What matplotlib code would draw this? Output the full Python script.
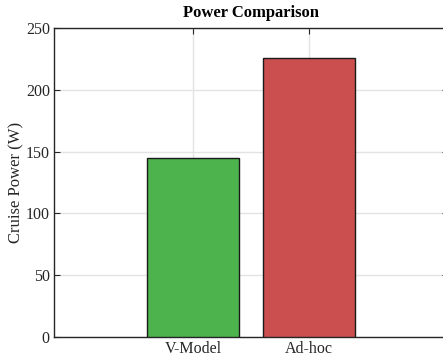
import matplotlib
matplotlib.use("Agg")
import matplotlib.pyplot as plt

# bar data
methods = ["V-Model", "Ad-hoc"]
cruise_power = [145, 226]
bar_colors = ["#4db34d", "#cc4f4f"]
y_ticks = [0, 50, 100, 150, 200, 250]

plt.rcParams["font.family"] = ["Liberation Serif", "DejaVu Serif"]

fig = plt.figure(figsize=(4.43, 3.59), dpi=100)
ax = fig.add_axes([54 / 443, 22 / 359, 394 / 443, 309 / 359])

positions = list(range(1, len(methods) + 1))
ax.bar(positions, cruise_power, width=0.8, color=bar_colors,
       edgecolor="#1a1a1a", linewidth=1.0, zorder=3)

ax.set_xlim(-0.2, 3.2)
ax.set_ylim(0, 250)
ax.set_xticks(positions)
ax.set_xticklabels(methods)
ax.set_yticks(y_ticks)

ax.grid(True, color="#e3e3e3", linewidth=1.0, zorder=0)
ax.tick_params(direction="in", length=4, width=0.8, color="#262626",
               labelsize=11.5, labelcolor="#262626", top=True, right=True, pad=3)
for spine in ax.spines.values():
    spine.set_color("#262626")
    spine.set_linewidth(1.0)

ax.set_ylabel("Cruise Power (W)", fontsize=12, color="#262626", labelpad=1)
ax.set_title("Power Comparison", fontsize=12, fontweight="bold", pad=8)

fig.savefig("out.png", dpi=100)
